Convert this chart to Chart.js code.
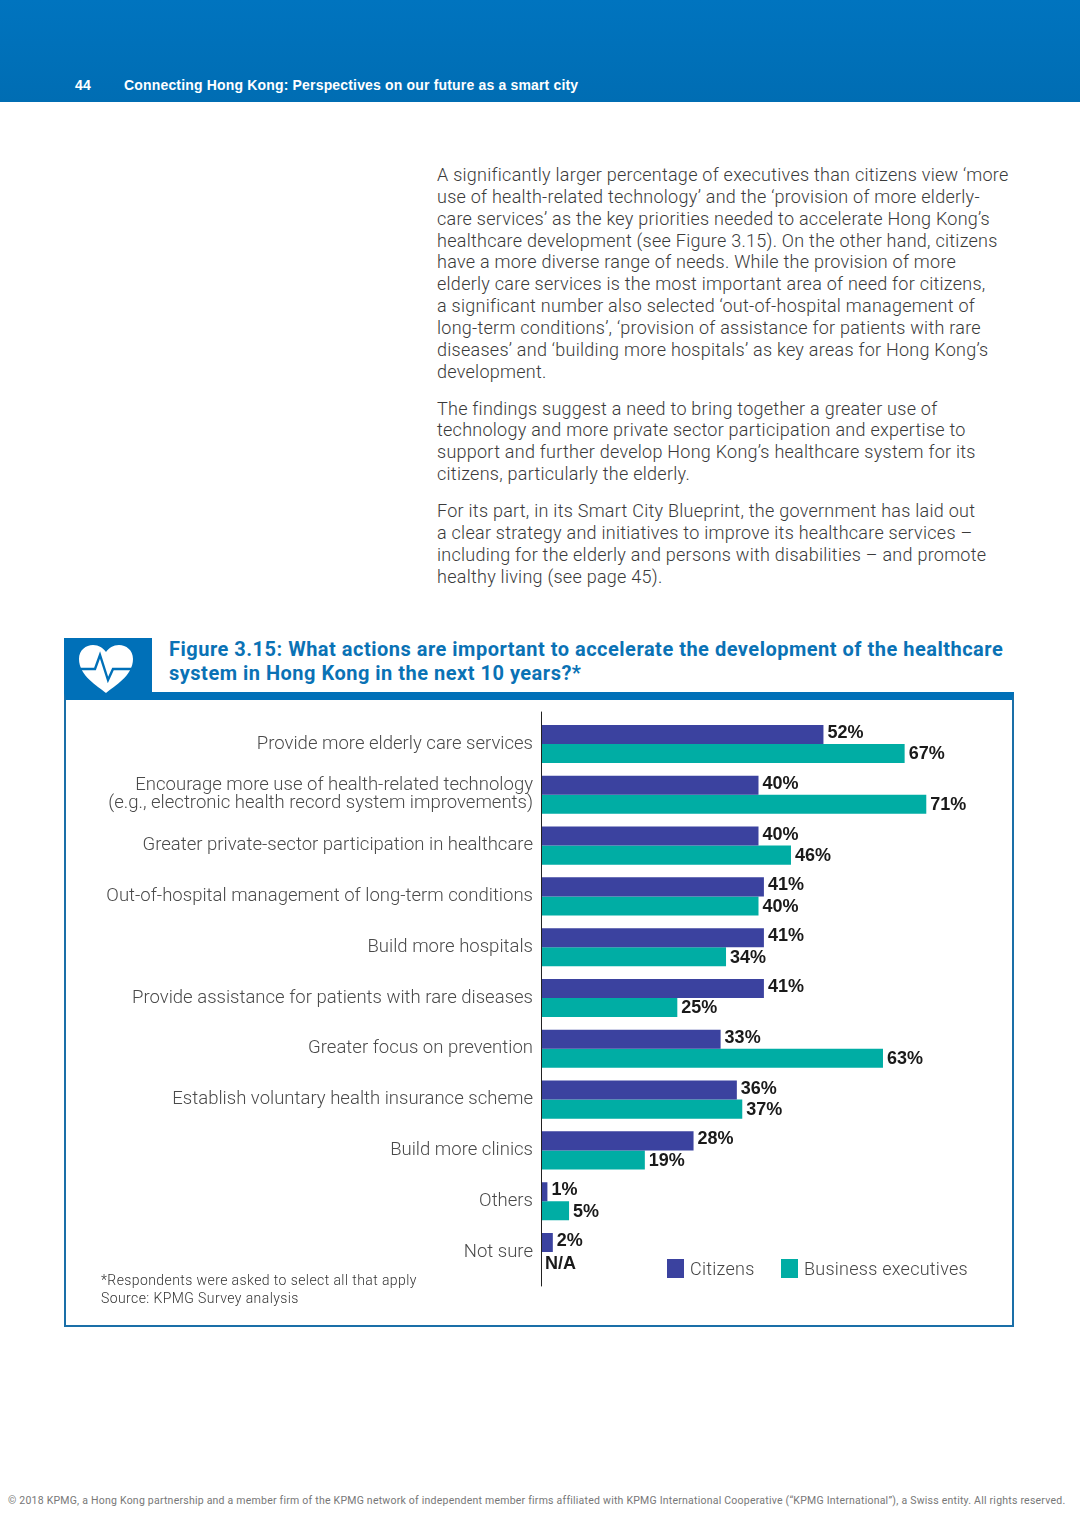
<!DOCTYPE html>
<html>
<head>
<meta charset="utf-8">
<script src="https://cdn.jsdelivr.net/npm/chart.js@4"></script>
<style>
  html, body { margin: 0; padding: 0; background: #fff; }
  body { position: relative; width: 1080px; height: 1528px; overflow: hidden; font-family: Roboto, sans-serif; }
  .abs { position: absolute; white-space: nowrap; }
  #header { left: 0; top: 0; width: 1080px; height: 102px; background: linear-gradient(#0074bf, #006db3); }
  .head { top: 77px; color: #fff; font: bold 14px "Liberation Sans", sans-serif; letter-spacing: 0.17px; }
  #copy { left: 437px; top: 164px; font-weight: 300; font-size: 18px; line-height: 21.85px; color: #3a3a3a; letter-spacing: 0.26px; }
  #copy p { margin: 0 0 15.2px; }
  #title { left: 169px; top: 637px; color: #0a72b5; font: bold 20px/24px Roboto, sans-serif; letter-spacing: 0.5px; }
  #iconbox { left: 64px; top: 638px; width: 88px; height: 56px; background: #0070b8; }
  #panel { left: 64px; top: 692px; width: 946px; height: 625px; border: 2px solid #1a6fa8; border-top: 8px solid #0070b8; }
  #chart { position: absolute; left: 66px; top: 700px; }
  #notes { left: 101px; top: 1271px; font-weight: 300; font-size: 14px; line-height: 18px; color: #333; letter-spacing: 0.41px; }
  .swatch { width: 17px; height: 19px; top: 1259px; }
  .legend { top: 1258px; font-weight: 300; font-size: 18px; color: #444; letter-spacing: 0.25px; }
  #footer { left: 8px; top: 1494px; font-size: 10.5px; color: #777; letter-spacing: 0.23px; }
</style>
</head>
<body>
<div class="abs" id="header"></div>
<div class="abs head" style="left:75px">44</div>
<div class="abs head" style="left:124px">Connecting Hong Kong: Perspectives on our future as a smart city</div>

<div class="abs" id="copy">
<p>A significantly larger percentage of executives than citizens view ‘more<br>
use of health-related technology’ and the ‘provision of more elderly-<br>
care services’ as the key priorities needed to accelerate Hong Kong’s<br>
healthcare development (see Figure 3.15). On the other hand, citizens<br>
have a more diverse range of needs. While the provision of more<br>
elderly care services is the most important area of need for citizens,<br>
a significant number also selected ‘out-of-hospital management of<br>
long-term conditions’, ‘provision of assistance for patients with rare<br>
diseases’ and ‘building more hospitals’ as key areas for Hong Kong’s<br>
development.</p>
<p>The findings suggest a need to bring together a greater use of<br>
technology and more private sector participation and expertise to<br>
support and further develop Hong Kong’s healthcare system for its<br>
citizens, particularly the elderly.</p>
<p>For its part, in its Smart City Blueprint, the government has laid out<br>
a clear strategy and initiatives to improve its healthcare services –<br>
including for the elderly and persons with disabilities – and promote<br>
healthy living (see page 45).</p>
</div>

<div class="abs" id="panel"></div>
<div class="abs" id="iconbox"></div>
<svg class="abs" style="left:78px;top:644px" width="56" height="50" viewBox="0 0 56 50">
  <path d="M28 49 C20 42 1 32 1 15 C1 6 8 1 15 1 C21 1 25 4 28 8 C31 4 35 1 41 1 C48 1 55 6 55 15 C55 32 36 42 28 49 Z" fill="#fff"/>
  <path d="M1 25 H17 L22 11 L30 36 L35 25 H55" fill="none" stroke="#0070b8" stroke-width="2.4"/>
</svg>
<div class="abs" id="title">Figure 3.15: What actions are important to accelerate the development of the healthcare<br>system in Hong Kong in the next 10 years?*</div>

<canvas id="chart" width="946" height="625"></canvas>

<div class="abs" id="notes">*Respondents were asked to select all that apply<br>Source: KPMG Survey analysis</div>
<div class="abs swatch" style="left:667px;background:#3b429f"></div>
<div class="abs legend" style="left:690px">Citizens</div>
<div class="abs swatch" style="left:781px;background:#00ada4"></div>
<div class="abs legend" style="left:804px">Business executives</div>

<div class="abs" id="footer">© 2018 KPMG, a Hong Kong partnership and a member firm of the KPMG network of independent member firms affiliated with KPMG International Cooperative (“KPMG International”), a Swiss entity. All rights reserved.</div>

<script>
const categories = [
  "Provide more elderly care services",
  ["Encourage more use of health-related technology", "(e.g., electronic health record system improvements)"],
  "Greater private-sector participation in healthcare",
  "Out-of-hospital management of long-term conditions",
  "Build more hospitals",
  "Provide assistance for patients with rare diseases",
  "Greater focus on prevention",
  "Establish voluntary health insurance scheme",
  "Build more clinics",
  "Others",
  "Not sure",
];
const citizens = [52, 40, 40, 41, 41, 41, 33, 36, 28, 1, 2];
const executives = [67, 71, 46, 40, 34, 25, 63, 37, 19, 5, null];

// value labels next to the bars, null means no answer for that group
const barLabels = {
  id: "barLabels",
  afterDatasetsDraw(chart) {
    const ctx = chart.ctx;
    ctx.save();
    ctx.font = "bold 18px 'Liberation Sans', sans-serif";
    ctx.fillStyle = "#1a1a1a";
    ctx.textBaseline = "middle";
    chart.data.datasets.forEach((ds, i) => {
      chart.getDatasetMeta(i).data.forEach((bar, j) => {
        const v = ds.data[j];
        const x = v === null ? chart.scales.x.getPixelForValue(0) + 3 : bar.x + 4;
        const y = bar.y + (i === 0 ? -1.5 : 1) + (v === null ? 2 : 0);
        ctx.fillText(v === null ? "N/A" : v + "%", x, y);
      });
    });
    ctx.restore();
  },
};

// axis line runs a bit past the first and last category
const axisLine = {
  id: "axisLine",
  afterDraw(chart) {
    const ctx = chart.ctx;
    const { top, bottom, left } = chart.chartArea;
    ctx.save();
    ctx.strokeStyle = "#222";
    ctx.lineWidth = 1;
    ctx.beginPath();
    ctx.moveTo(left - 0.5, top - 7);
    ctx.lineTo(left - 0.5, bottom + 9);
    ctx.stroke();
    ctx.restore();
  },
};

new Chart(document.getElementById("chart"), {
  type: "bar",
  data: {
    labels: categories,
    datasets: [
      { label: "Citizens", data: citizens, backgroundColor: "#3b429f" },
      { label: "Business executives", data: executives, backgroundColor: "#00ada4" },
    ],
  },
  options: {
    indexAxis: "y",
    responsive: false,
    animation: false,
    devicePixelRatio: 1,
    layout: { padding: { top: 18.6, bottom: 47.6, right: 37, left: 0 } },
    datasets: { bar: { categoryPercentage: 0.75, barPercentage: 1 } },
    plugins: { legend: { display: false }, tooltip: { enabled: false } },
    scales: {
      x: { display: false, min: 0, max: 80 },
      y: {
        afterFit(scale) { scale.width = 476; },
        grid: { display: false, drawTicks: false },
        border: { display: false },
        ticks: {
          padding: 9,
          autoSkip: false,
          color: "#4a4a4a",
          font: { family: "Roboto", size: 18.55, weight: "300", lineHeight: 0.97 },
        },
      },
    },
  },
  plugins: [barLabels, axisLine],
});
</script>
</body>
</html>
